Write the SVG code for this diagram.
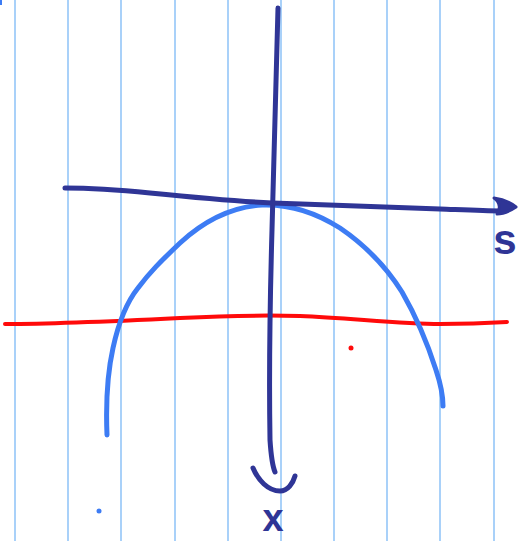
<svg xmlns="http://www.w3.org/2000/svg" width="530" height="541" viewBox="0 0 530 541">
<style>
.grid{stroke:#a9d1f9;stroke-width:2}
.ink{fill:none;stroke:#2f3596;stroke-width:5;stroke-linecap:round;stroke-linejoin:round}
.curve{fill:none;stroke:#3d7cf4;stroke-width:5;stroke-linecap:round;stroke-linejoin:round}
.red{fill:none;stroke:#ff0a0a;stroke-width:4;stroke-linecap:round}
.lbl{font-family:"Liberation Sans",Arial,sans-serif;fill:#2f3596;font-weight:bold}
</style>
<rect width="530" height="541" fill="#fff"/>
<g id="grid">
<line class="grid" x1="15" y1="0" x2="15" y2="541"/>
<line class="grid" x1="68" y1="0" x2="68" y2="541"/>
<line class="grid" x1="121" y1="0" x2="121" y2="541"/>
<line class="grid" x1="175" y1="0" x2="175" y2="541"/>
<line class="grid" x1="228" y1="0" x2="228" y2="541"/>
<line class="grid" x1="281" y1="0" x2="281" y2="541"/>
<line class="grid" x1="334" y1="0" x2="334" y2="541"/>
<line class="grid" x1="387" y1="0" x2="387" y2="541"/>
<line class="grid" x1="440" y1="0" x2="440" y2="541"/>
<line class="grid" x1="494" y1="0" x2="494" y2="541"/>
</g>
<rect x="0" y="0" width="2" height="5" fill="#3d7cf4"/>
<g id="red-line">
<path class="red" d="M5,324 C60,324 120,321 180,318 C220,316 260,315 300,316 C350,318 400,324 440,324 C470,324 490,323 507,322"/>
</g>
<g id="curve">
<path class="curve" d="M107,435 C106,410 107,375 113,348 C118,325 126,303 138,288 C150,272 160,262 180,243 C205,220 232,207 262,205 C290,204 315,212 340,228 C365,245 385,265 402,292 C417,318 428,345 436,370 C441,385 443,395 443,406"/>
</g>
<g id="connectors">
<path class="ink" d="M278,8 C277,70 274,150 272,230 C270,300 269,380 270,440 C271,455 272,465 275,472"/>
<path class="ink" d="M253,468 C258,480 268,491 280,491 C288,491 293,483 295,476"/>
<path class="ink" d="M65,188 C95,188 120,190 150,193 C190,197 230,201 272,203 C330,205 390,207 440,209 C465,210 485,211 500,211"/>
<path d="M494,198 C502,199 510,202 516,207 C510,211 503,214 497,214 C500,210 501,203 494,198 Z" fill="#2f3596" stroke="#2f3596" stroke-width="3" stroke-linejoin="round"/>
</g>
<g id="labels">
<text class="lbl" x="505" y="254" font-size="42" text-anchor="middle">s</text>
<text class="lbl" x="273" y="531" font-size="38" text-anchor="middle">x</text>
</g>
<circle cx="99" cy="511" r="2.5" fill="#3d7cf4"/>
<circle cx="351" cy="348" r="2.5" fill="#ff0a0a"/>
</svg>
